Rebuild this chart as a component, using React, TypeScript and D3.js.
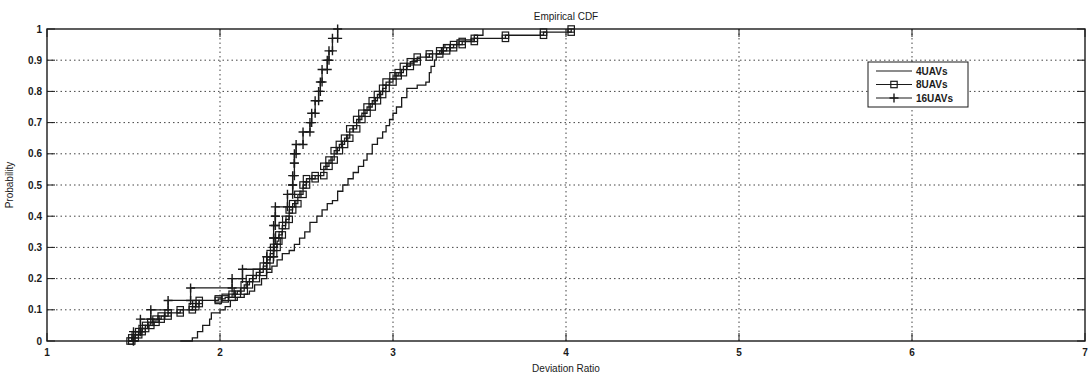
import React from 'react';
import * as d3 from 'd3';

// ECDF step vertices: deviation ratio (x) and cumulative probability (y)
const uav4X = [1.77, 1.84, 1.87, 1.90, 1.94, 1.95, 2.00, 2.03, 2.06, 2.10, 2.14, 2.17, 2.20, 2.24, 2.27, 2.30, 2.33, 2.36, 2.40, 2.43, 2.46, 2.49, 2.52, 2.56, 2.59, 2.62, 2.65, 2.68, 2.71, 2.74, 2.77, 2.80, 2.83, 2.85, 2.88, 2.91, 2.94, 2.96, 2.98, 3.00, 3.02, 3.05, 3.08, 3.14, 3.19, 3.21, 3.22, 3.24, 3.25, 3.28, 3.30, 3.37, 3.47, 3.52];
const uav4Y = [0.00, 0.01, 0.03, 0.05, 0.07, 0.09, 0.10, 0.11, 0.13, 0.14, 0.15, 0.16, 0.18, 0.20, 0.22, 0.24, 0.26, 0.28, 0.29, 0.31, 0.33, 0.35, 0.38, 0.40, 0.42, 0.44, 0.45, 0.48, 0.50, 0.52, 0.54, 0.56, 0.58, 0.60, 0.63, 0.65, 0.67, 0.69, 0.71, 0.73, 0.75, 0.78, 0.81, 0.82, 0.83, 0.86, 0.88, 0.90, 0.92, 0.94, 0.95, 0.965, 0.98, 1.00];

const uav8X = [1.48, 1.49, 1.51, 1.53, 1.55, 1.57, 1.60, 1.63, 1.66, 1.70, 1.77, 1.84, 1.86, 1.88, 1.99, 2.03, 2.07, 2.10, 2.14, 2.17, 2.21, 2.25, 2.27, 2.29, 2.31, 2.33, 2.34, 2.36, 2.38, 2.40, 2.42, 2.45, 2.48, 2.50, 2.55, 2.60, 2.63, 2.66, 2.69, 2.72, 2.75, 2.79, 2.82, 2.85, 2.88, 2.91, 2.94, 2.96, 3.00, 3.03, 3.06, 3.10, 3.14, 3.21, 3.27, 3.31, 3.35, 3.40, 3.47, 3.65, 3.87, 4.03];
const uav8Y = [0.00, 0.01, 0.02, 0.03, 0.04, 0.05, 0.06, 0.07, 0.08, 0.09, 0.10, 0.11, 0.12, 0.13, 0.135, 0.14, 0.15, 0.16, 0.18, 0.20, 0.22, 0.24, 0.26, 0.28, 0.30, 0.32, 0.34, 0.37, 0.39, 0.42, 0.44, 0.47, 0.50, 0.52, 0.53, 0.56, 0.58, 0.61, 0.63, 0.65, 0.68, 0.71, 0.73, 0.75, 0.77, 0.79, 0.81, 0.83, 0.85, 0.86, 0.88, 0.895, 0.91, 0.92, 0.93, 0.94, 0.95, 0.96, 0.97, 0.98, 0.99, 1.00];

const uav16X = [1.50, 1.50, 1.54, 1.60, 1.70, 1.83, 2.07, 2.13, 2.27, 2.31, 2.31, 2.31, 2.32, 2.32, 2.39, 2.42, 2.42, 2.43, 2.43, 2.44, 2.48, 2.52, 2.53, 2.55, 2.57, 2.58, 2.59, 2.62, 2.63, 2.65, 2.68];
const uav16Y = [0.00, 0.03, 0.07, 0.10, 0.13, 0.17, 0.20, 0.23, 0.27, 0.30, 0.33, 0.37, 0.40, 0.43, 0.47, 0.50, 0.53, 0.57, 0.60, 0.63, 0.67, 0.70, 0.73, 0.77, 0.80, 0.83, 0.87, 0.90, 0.93, 0.97, 1.00];

const seriesNames = ['4UAVs', '8UAVs', '16UAVs'];
const xTicks = [1, 2, 3, 4, 5, 6, 7];
const yTicks = [0, 0.1, 0.2, 0.3, 0.4, 0.5, 0.6, 0.7, 0.8, 0.9, 1];

const W = 1090;
const H = 378;
const margin = { top: 29, right: 5, bottom: 37, left: 47 };
const font = '"Liberation Sans", Arial, sans-serif';
const ink = '#1a1a1a';

type Pt = [number, number];

const zip = (xs: number[], ys: number[]): Pt[] => xs.map((x, i) => [x, ys[i]]);

const App: React.FC = () => {
  const x = d3.scaleLinear().domain([1, 7]).range([margin.left, W - margin.right]);
  const y = d3.scaleLinear().domain([0, 1]).range([H - margin.bottom, margin.top]);

  const stairs = d3.line<Pt>()
    .x(d => x(d[0]))
    .y(d => y(d[1]))
    .curve(d3.curveStepAfter);

  const series = [zip(uav4X, uav4Y), zip(uav8X, uav8Y), zip(uav16X, uav16Y)];

  // markers sit on both corners of each step, like matlab's stairs output
  const corners = (pts: Pt[]): Pt[] => {
    const out: Pt[] = [pts[0]];
    for (let i = 1; i < pts.length; i++) {
      out.push([pts[i][0], pts[i - 1][1]]);
      out.push(pts[i]);
    }
    return out;
  };

  const x0 = x(1), x1 = x(7), y0 = y(0), y1 = y(1);
  const tickLen = 8;

  const square = (cx: number, cy: number, k: string) => (
    <rect key={k} x={cx - 3.2} y={cy - 3.2} width={6.4} height={6.4} fill="none" stroke={ink} strokeWidth={1.2} />
  );
  const plus = (cx: number, cy: number, k: string) => (
    <path key={k} d={`M${cx - 4.5},${cy}H${cx + 4.5}M${cx},${cy - 4.5}V${cy + 4.5}`} stroke={ink} strokeWidth={1.4} />
  );

  const legX = 868, legY = 62, legW = 100, legH = 45;

  return (
    <svg width={W} height={H} style={{ position: 'absolute', left: 0, top: 0, background: '#fff' }} fontFamily={font}>
      <rect x={0} y={0} width={W} height={H} fill="#fff" />

      {/* grid */}
      {xTicks.slice(1, -1).map(t => (
        <line key={'gx' + t} x1={x(t)} x2={x(t)} y1={y0} y2={y1} stroke="#444" strokeWidth={1} strokeDasharray="1.5,3" />
      ))}
      {yTicks.slice(1, -1).map(t => (
        <line key={'gy' + t} x1={x0} x2={x1} y1={y(t)} y2={y(t)} stroke="#444" strokeWidth={1} strokeDasharray="1.5,3" />
      ))}

      {/* ticks on all four sides, pointing inward */}
      {xTicks.map(t => (
        <g key={'tx' + t}>
          <line x1={x(t)} x2={x(t)} y1={y0} y2={y0 - tickLen} stroke={ink} />
          <line x1={x(t)} x2={x(t)} y1={y1} y2={y1 + tickLen} stroke={ink} />
          <text x={x(t)} y={y0 + 15} textAnchor="middle" fontSize={10} fontWeight="bold" fill={ink}>{t}</text>
        </g>
      ))}
      {yTicks.map(t => (
        <g key={'ty' + t}>
          <line x1={x0} x2={x0 + tickLen} y1={y(t)} y2={y(t)} stroke={ink} />
          <line x1={x1} x2={x1 - tickLen} y1={y(t)} y2={y(t)} stroke={ink} />
          <text x={x0 - 5} y={y(t) + 3.5} textAnchor="end" fontSize={10} fontWeight="bold" fill={ink}>{d3.format('~g')(t)}</text>
        </g>
      ))}

      {/* curves */}
      {series.map((pts, i) => (
        <path key={'s' + i} d={stairs(pts) || ''} fill="none" stroke={ink} strokeWidth={1.3} />
      ))}
      {corners(series[1]).map((p, j) => square(x(p[0]), y(p[1]), 'sq' + j))}
      {corners(series[2]).map((p, j) => plus(x(p[0]), y(p[1]), 'pl' + j))}

      {/* axes box */}
      <rect x={x0} y={y1} width={x1 - x0} height={y0 - y1} fill="none" stroke={ink} strokeWidth={1.4} />

      {/* labels */}
      <text x={(x0 + x1) / 2} y={20} textAnchor="middle" fontSize={10} fill={ink}>Empirical CDF</text>
      <text x={(x0 + x1) / 2} y={H - 6} textAnchor="middle" fontSize={10} fill={ink}>Deviation Ratio</text>
      <text transform={`translate(13,${(y0 + y1) / 2}) rotate(-90)`} textAnchor="middle" fontSize={10} fill={ink}>Probability</text>

      {/* legend */}
      <rect x={legX} y={legY} width={legW} height={legH} fill="#fff" stroke={ink} strokeWidth={1} />
      {seriesNames.map((name, i) => {
        const ly = legY + 9 + i * 13.5;
        const lx0 = legX + 8, lx1 = legX + 44;
        return (
          <g key={'lg' + i}>
            <line x1={lx0} x2={lx1} y1={ly} y2={ly} stroke={ink} strokeWidth={1.2} />
            {i === 1 && square((lx0 + lx1) / 2, ly, 'lsq')}
            {i === 2 && plus((lx0 + lx1) / 2, ly, 'lpl')}
            <text x={lx1 + 4} y={ly + 3.5} fontSize={10} fontWeight="bold" fill={ink}>{name}</text>
          </g>
        );
      })}
    </svg>
  );
};

export default App;
